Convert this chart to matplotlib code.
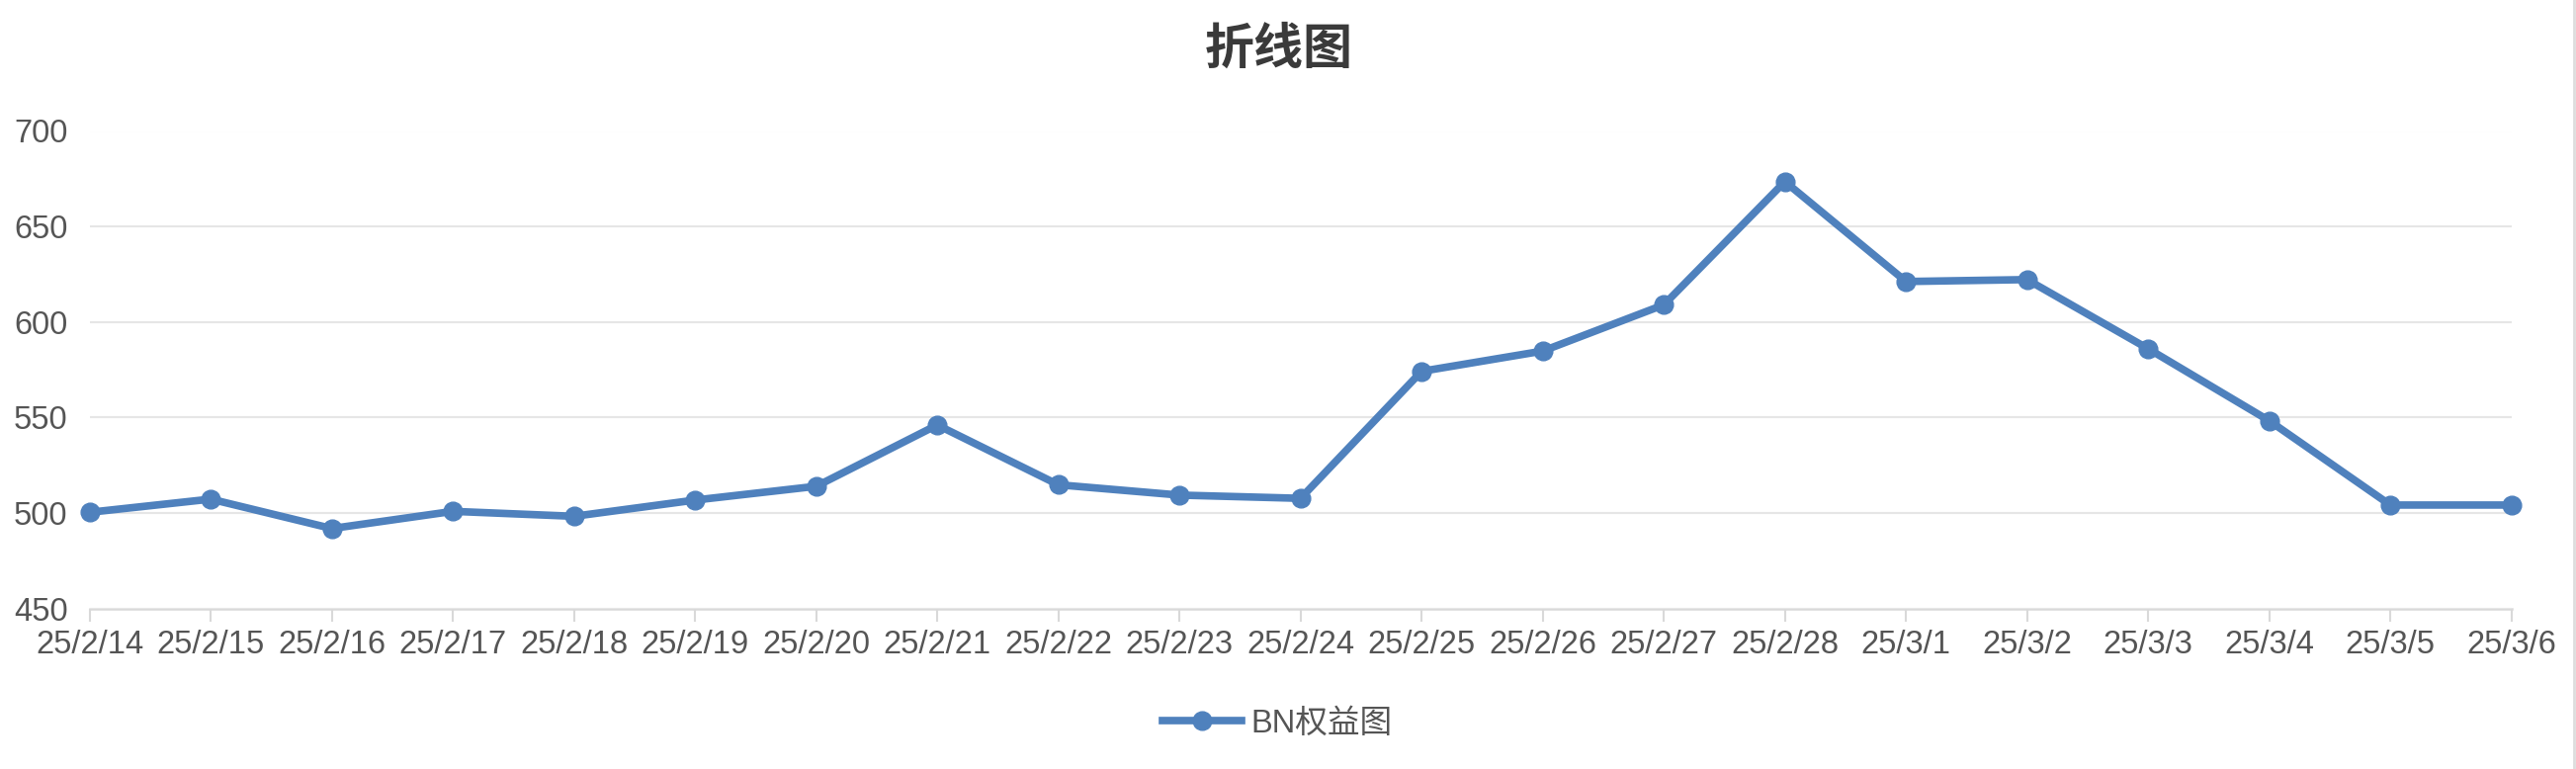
import matplotlib
matplotlib.use("Agg")
import matplotlib.pyplot as plt
from matplotlib.lines import Line2D

dates = ["25/2/14", "25/2/15", "25/2/16", "25/2/17", "25/2/18", "25/2/19",
         "25/2/20", "25/2/21", "25/2/22", "25/2/23", "25/2/24", "25/2/25",
         "25/2/26", "25/2/27", "25/2/28", "25/3/1", "25/3/2", "25/3/3",
         "25/3/4", "25/3/5", "25/3/6"]
equity = [500.4, 507.3, 491.9, 500.9, 498.3, 506.8, 514.0, 546.1, 514.8,
          509.4, 507.7, 574.2, 584.8, 609.0, 673.5, 621.2, 622.2, 586.0,
          548.3, 504.2, 504.2]
yticks = [450, 500, 550, 600, 650, 700]
series_name = "BN权益图"
title = "折线图"

W, H = 2606, 778
fonts = ["Liberation Sans", "Noto Sans CJK SC", "DejaVu Sans"]
plt.rcParams["font.family"] = fonts
text_color = "#555555"
blue = "#4f81bd"


def main():
    fig = plt.figure(figsize=(W / 100, H / 100), dpi=100)
    fig.patch.set_facecolor("white")
    ax = fig.add_axes([90.7 / W, 1 - 615.7 / H, (2540.7 - 90.7) / W,
                       (615.7 - 132.5) / H])
    xs = list(range(len(dates)))
    ax.plot(xs, equity, color=blue, lw=5.5, marker="o", markersize=13.5,
            solid_joinstyle="round", label=series_name, zorder=3, clip_on=False)

    ax.set_xlim(0, len(dates) - 1)
    ax.set_ylim(yticks[0], yticks[-1])
    ax.set_xticks(xs)
    ax.set_xticklabels(dates)
    ax.set_yticks(yticks)
    ax.grid(axis="y", color="#e6e6e6", lw=1.5, zorder=0)
    for s in ["top", "left", "right"]:
        ax.spines[s].set_visible(False)
    ax.spines["bottom"].set_color("#d9d9d9")
    ax.spines["bottom"].set_linewidth(1.8)
    ax.spines["bottom"].set_zorder(1)
    ax.tick_params(axis="x", length=9.4, width=1.5, color="#d9d9d9",
                   labelsize=23.5, labelcolor=text_color, pad=6)
    ax.tick_params(axis="y", length=0, labelsize=23.5, labelcolor=text_color,
                   pad=16)

    fig.text(1294 / W, 1 - 50 / H, title, ha="center", va="center",
             fontsize=36, fontweight="bold", color="#3a3a3a",
             family=["Noto Sans CJK SC", "DejaVu Sans"])

    fig.legend(loc="center", bbox_to_anchor=(1292 / W, 1 - 732 / H),
               frameon=False, fontsize=23.5, handlelength=2.45,
               handletextpad=0.3, borderpad=0, labelcolor=text_color)

    # thin border on the right edge, as in the screenshot
    fig.add_artist(Line2D([2604 / W, 2604 / W], [0, 1], color="#dddddd",
                          lw=2, transform=fig.transFigure))

    fig.savefig("out.png", dpi=100)


if __name__ == "__main__":
    main()
